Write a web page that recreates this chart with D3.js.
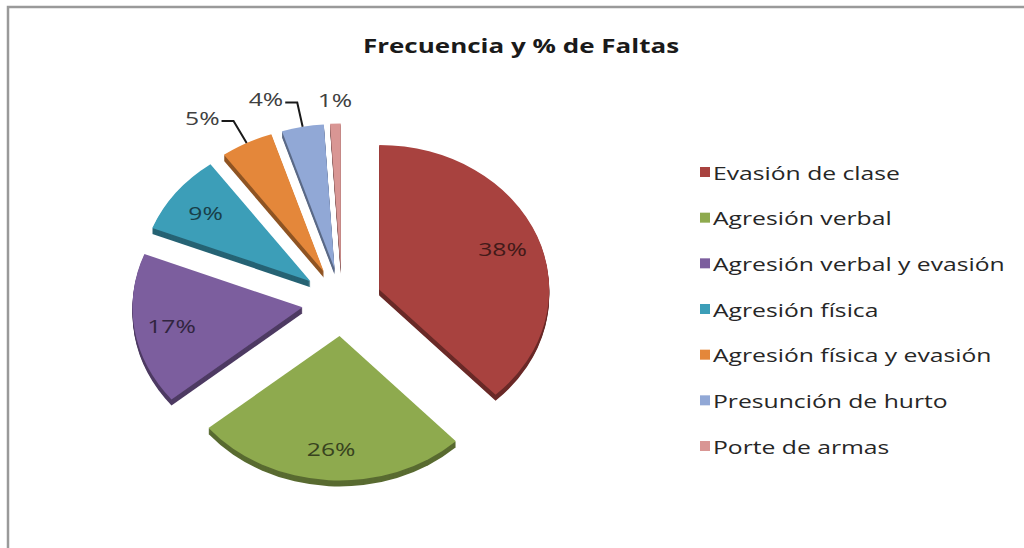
<!DOCTYPE html>
<html lang="es">
<head>
<meta charset="utf-8">
<script src="https://cdn.jsdelivr.net/npm/d3@7"></script>
<style>
  body { margin: 0; background: #fff; }
  svg { display: block; font-family: "Open Sans", Lato, sans-serif; }
</style>
</head>
<body>
<script>
// Datos del gráfico
const categorias = ["Evasión de clase", "Agresión verbal", "Agresión verbal y evasión",
  "Agresión física", "Agresión física y evasión", "Presunción de hurto", "Porte de armas"];
const porcentajes = [38, 26, 17, 9, 5, 4, 1];
const colores = ["#A8423F", "#8EAA4E", "#7C5E9E", "#3C9EB8", "#E4873A", "#91A8D6", "#D99694"];
const titulo = "Frecuencia y % de Faltas";

const W = 1024, H = 548;
const cx = 342, cy = 302;      // centro del pastel
const rx = 170, k = 0.85;      // radio horizontal y achatamiento 3D
const explode = 40, depth = 6;

const svg = d3.select("body").append("svg").attr("width", W).attr("height", H);

// el original está algo estirado a lo ancho: medimos la leyenda más larga para sacar el factor
const probe = svg.append("text").attr("font-size", 19).text(categorias[2]);
const sx = 292 / probe.node().getComputedTextLength();
probe.remove();

// texto estirado horizontalmente
function stretched(sel, x, y) {
  return sel.attr("transform", `translate(${x},${y}) scale(${sx},1)`);
}

// marco del área del gráfico
svg.append("rect")
  .attr("x", 8).attr("y", 7).attr("width", W + 20).attr("height", H + 20)
  .attr("fill", "#fff").attr("stroke", "#9a9a9a").attr("stroke-width", 2.5);

stretched(svg.append("text"), 521, 53)
  .attr("text-anchor", "middle")
  .attr("font-weight", "bold").attr("font-size", 20).attr("fill", "#1a1a1a")
  .text(titulo);

const pie = d3.pie().sort(null).value(d => d)(porcentajes);
const arc = d3.arc().innerRadius(0).outerRadius(rx);
const mid = d => (d.startAngle + d.endAngle) / 2;

// punto de la elipse (coordenadas de pantalla) para ángulo a y radio r
const pt = (a, r) => [r * Math.sin(a), -r * Math.cos(a) * k];
const vertex = d => { const o = pt(mid(d), explode); return [cx + o[0], cy + o[1]]; };

const slices = svg.selectAll("g.slice").data(pie).join("g").attr("class", "slice");

// cara lateral (extrusión) y cara superior
slices.each(function(d, i) {
  const v = vertex(d);
  const g = d3.select(this);
  for (let j = depth; j >= 1; j--) {
    g.append("path")
      .attr("d", arc(d))
      .attr("transform", `translate(${v[0]},${v[1] + j}) scale(1,${k})`)
      .attr("fill", d3.color(colores[i]).darker(1.3));
  }
  g.append("path")
    .attr("d", arc(d))
    .attr("transform", `translate(${v[0]},${v[1]}) scale(1,${k})`)
    .attr("fill", colores[i]);
});

// etiquetas de porcentaje
const labelFont = 19;
pie.forEach((d, i) => {
  const v = vertex(d);
  const a = mid(d);
  const txt = porcentajes[i] + "%";
  if (porcentajes[i] >= 6) {
    const p = pt(a, rx * 0.78);
    stretched(svg.append("text"), v[0] + p[0], v[1] + p[1])
      .attr("text-anchor", "middle").attr("dominant-baseline", "central")
      .attr("font-size", labelFont)
      .attr("fill", d3.color(colores[i]).darker(2.6))
      .text(txt);
  } else if (Math.abs(a - 2 * Math.PI) < 0.1) {
    // porción casi vertical: etiqueta justo encima
    const p = pt(a, rx * 1.08);
    stretched(svg.append("text"), v[0] + p[0], v[1] + p[1] - 5)
      .attr("text-anchor", "middle")
      .attr("font-size", labelFont).attr("fill", "#404040")
      .text(txt);
  } else {
    const edge = pt(a, rx);
    const elbow = pt(a, rx * 1.17);
    const x0 = v[0] + edge[0], y0 = v[1] + edge[1];
    const x1 = v[0] + elbow[0], y1 = v[1] + elbow[1];
    const x2 = x1 - 12;
    svg.append("path")
      .attr("d", `M${x0},${y0}L${x1},${y1}L${x2},${y1}`)
      .attr("fill", "none").attr("stroke", "#1a1a1a").attr("stroke-width", 2);
    stretched(svg.append("text"), x2 - 2, y1 - 4)
      .attr("text-anchor", "end").attr("dominant-baseline", "central")
      .attr("font-size", labelFont).attr("fill", "#404040")
      .text(txt);
  }
});

// leyenda
const legendY = d3.scalePoint().domain(categorias).range([172, 446]);
const legend = svg.selectAll("g.legend").data(categorias).join("g")
  .attr("class", "legend")
  .attr("transform", d => `translate(700,${legendY(d)})`);
legend.append("rect")
  .attr("x", 0).attr("y", -5).attr("width", 10).attr("height", 10)
  .attr("fill", (d, i) => colores[i]);
legend.append("text")
  .attr("transform", `translate(13,0) scale(${sx},1)`)
  .attr("dominant-baseline", "central")
  .attr("font-size", 19).attr("fill", "#262626")
  .text(d => d);
</script>
</body>
</html>
